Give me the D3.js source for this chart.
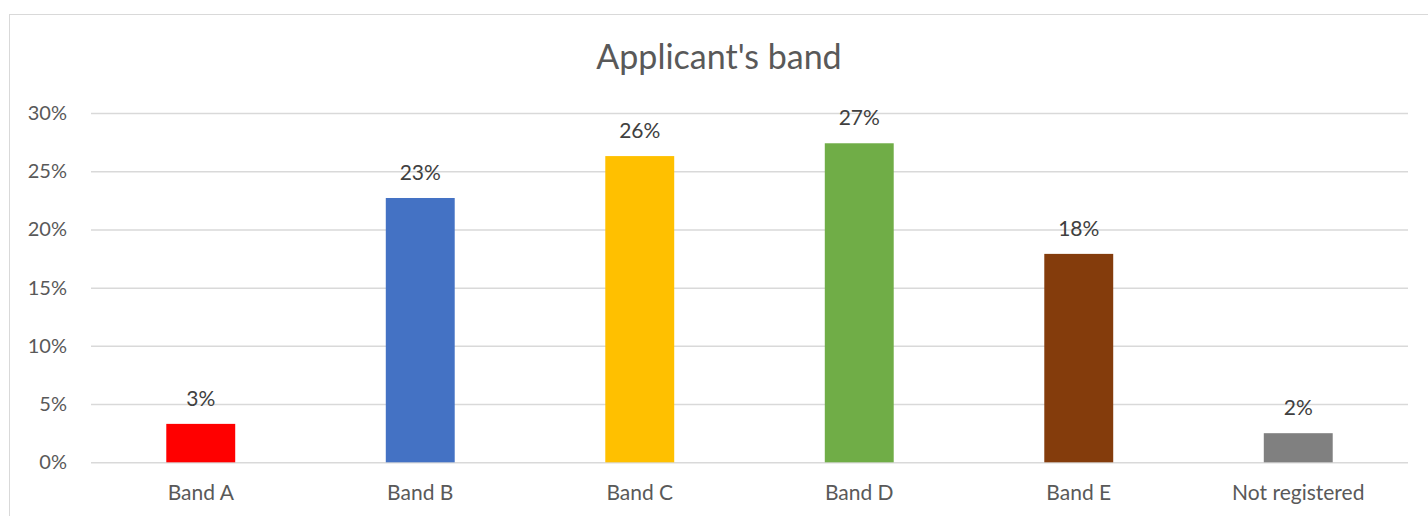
<!DOCTYPE html>
<html><head><meta charset="utf-8">
<script src="https://cdn.jsdelivr.net/npm/d3@7"></script>
<style>body{margin:0;background:#fff;}svg{display:block;font-family:Lato,"Open Sans",sans-serif;}</style>
</head><body>
<svg id="c" width="1428" height="516"></svg>
<script>
const categories = ["Band A","Band B","Band C","Band D","Band E","Not registered"];
const values = [0.033, 0.227, 0.263, 0.274, 0.179, 0.025];
const labels = ["3%","23%","26%","27%","18%","2%"];
const colors = ["#FF0000","#4472C4","#FFC000","#70AD47","#843C0C","#808080"];
const yTicks = [0,0.05,0.10,0.15,0.20,0.25,0.30];
const title = "Applicant's band";

const svg = d3.select("#c");
svg.append("rect").attr("x",9.5).attr("y",14.5).attr("width",1430).attr("height",520)
  .attr("fill","#fff").attr("stroke","#d9d9d9").attr("stroke-width",1);

const x = d3.scaleBand().domain(categories).range([91,1408]).paddingInner(0.686).paddingOuter(0.343);
const y = d3.scaleLinear().domain([0,0.30]).range([462.3,113]);

const gy = svg.append("g").attr("transform","translate(91,0)")
  .call(d3.axisLeft(y).tickValues(yTicks).tickFormat(d3.format(".0%")).tickSize(-1317).tickPadding(24));
gy.select(".domain").remove();
gy.selectAll(".tick line").attr("stroke","#d9d9d9").attr("stroke-width",1.5);
gy.selectAll(".tick text").attr("fill","#595959").attr("font-size",20).attr("font-family","Lato, sans-serif");

const gx = svg.append("g").attr("transform","translate(0,462.3)")
  .call(d3.axisBottom(x).tickSize(0).tickPadding(23));
gx.select(".domain").remove();
gx.selectAll(".tick text").attr("fill","#595959").attr("font-size",21).attr("font-family","Lato, sans-serif");

svg.append("g").selectAll("rect").data(categories).join("rect")
  .attr("x",d=>x(d)).attr("width",x.bandwidth())
  .attr("y",(d,i)=>y(values[i])).attr("height",(d,i)=>y(0)-y(values[i]))
  .attr("fill",(d,i)=>colors[i]);

svg.append("g").selectAll("text").data(categories).join("text")
  .attr("x",d=>x(d)+x.bandwidth()/2).attr("y",(d,i)=>y(values[i])-18)
  .attr("text-anchor","middle").attr("fill","#404040").attr("font-size",21)
  .text((d,i)=>labels[i]);

svg.append("text").attr("x",719).attr("y",69).attr("text-anchor","middle")
  .attr("fill","#595959").attr("font-size",34).text(title);
</script>
</body></html>
